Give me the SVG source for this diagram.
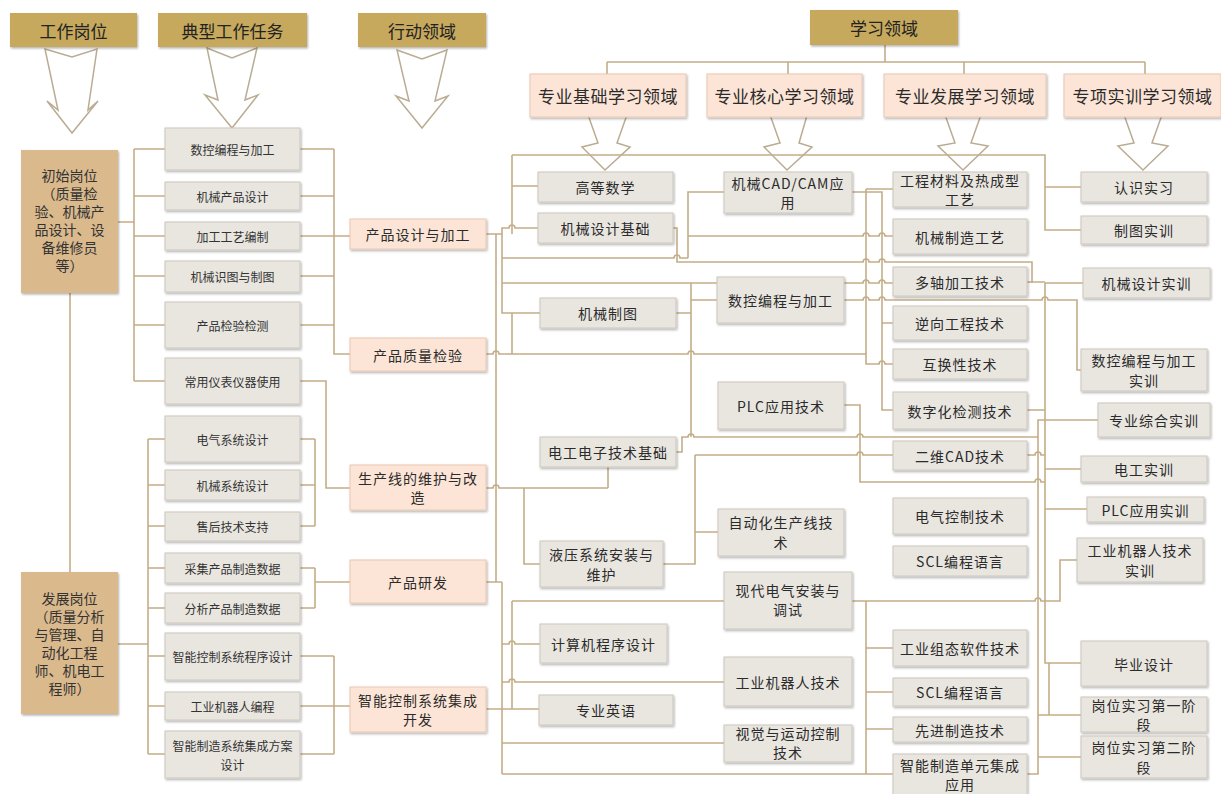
<svg xmlns="http://www.w3.org/2000/svg" width="1221" height="794" viewBox="0 0 1221 794">
<defs>
<filter id="sh" x="-10%" y="-10%" width="125%" height="135%"><feDropShadow dx="1" dy="1.5" stdDeviation="1" flood-color="#000" flood-opacity="0.3"/></filter>
<style>
text{font-family:"Noto Sans CJK SC","Noto Sans",sans-serif;fill:#2b2b2b;text-anchor:middle;dominant-baseline:central}
.hdr{fill:#C6A95C;filter:url(#sh)}
.ht{font-size:17px;fill:#222}
.post{fill:#DAB98C;filter:url(#sh)}
.pt{font-size:14px;fill:#333}
.act{fill:#FCE5D6;stroke:#EBC8B1;stroke-width:1;filter:url(#sh)}
.at{font-size:14px;letter-spacing:1px}
.sub{font-size:17px;letter-spacing:0.5px}
.box{fill:#E9E6E0;stroke:#CDC8BD;stroke-width:1;filter:url(#sh)}
.tt{font-size:12px;fill:#333}
.ct{font-size:14px;letter-spacing:1px}
.ln{fill:none;stroke:#C3AD87;stroke-width:1.6}
.arw{fill:#fff;stroke:#B9AC92;stroke-width:1.5;stroke-linejoin:miter}
</style>
</defs>
<rect width="1221" height="794" fill="#fff"/>

<g id="arrows">
<polygon class="arw" points="45,49 72,57 97,49 88,110 98,101 72,133 47,101 58,110"/>
<polygon class="arw" points="207,48 232,58 257,48 245,100 258,95 232,128 205,95 218,100"/>
<polygon class="arw" points="397,50 422,59 447,50 435,101 448,96 422,128 396,96 409,101"/>
<polygon class="arw" points="587,112 598,143 582,147 605,170 630,147 617,143 628,112"/>
<polygon class="arw" points="769,112 780,143 764,147 787,170 812,147 799,143 808,112"/>
<polygon class="arw" points="944,112 955,143 938,146 963,170 988,146 971,143 982,112"/>
<polygon class="arw" points="1123,112 1134,143 1118,146 1143,170 1168,146 1152,143 1163,112"/>
</g>

<g id="connectors">
<path class="ln" d="M885,45V62M607,62H1145M607,62V74M788,62V74M964,62V74M1145,62V74"/>
<path class="ln" d="M118,222H134M134,149V381M134,149H165M134,196H165M134,236H165M134,276H165M134,325H165M134,381H165"/>
<path class="ln" d="M300,149H334M300,196H334M300,236H350M300,276H334M300,325H334M334,149V354H350"/>
<path class="ln" d="M300,381H326V488H350M70,293V572"/>
<path class="ln" d="M118,644H148M148,439V754M148,439H165M148,485H165M148,526H165M148,568H165M148,608H165M148,656H165M148,706H165M148,754H165"/>
<path class="ln" d="M300,439H315M300,485H315M300,526H315M315,439V526M300,568H315M300,608H315M315,568V608M315,582H350"/>
<path class="ln" d="M300,656H334M300,706H350M300,754H334M334,656V754"/>

<path class="ln" d="M486,234H502M496,234V582M502,234V228H509a3,3 0 0 1 6,0H538M512,155V234M512,155H1045V230H1081M512,186H538M1045,187H1081"/>
<path class="ln" d="M502,234V313H540M502,258H674a3,3 0 0 1 6,0H688M502,283H863a3,3 0 0 1 6,0H879a3,3 0 0 1 6,0H893M512,313V354"/>
<path class="ln" d="M673,228H677V262H863a3,3 0 0 1 6,0H879a3,3 0 0 1 6,0H1032V283"/>
<path class="ln" d="M724,192H688V258M688,236H863a3,3 0 0 1 6,0H879a3,3 0 0 1 6,0H893"/>
<path class="ln" d="M852,192H882V410H893M866,189H893M866,189V354M882,323H893"/>
<path class="ln" d="M691,283V437M691,300H717M676,313H691"/>
<path class="ln" d="M844,300H863a3,3 0 0 1 6,0H879a3,3 0 0 1 6,0H1042a3,3 0 0 1 6,0H1077V370H1081"/>
<path class="ln" d="M486,354H493a3,3 0 0 1 6,0H688a3,3 0 0 1 6,0H866V364H879a3,3 0 0 1 6,0H893"/>
<path class="ln" d="M676,452H682V437H688a3,3 0 0 1 6,0H857a3,3 0 0 1 6,0H1038"/>
<path class="ln" d="M695,455V564H663M695,532H718M695,455H857a3,3 0 0 1 6,0H893"/>
<path class="ln" d="M844,405H860V482H1035a3,3 0 0 1 6,0H1045"/>
<path class="ln" d="M608,467V488M486,488H493a3,3 0 0 1 6,0H608M524,488V564H540"/>
<path class="ln" d="M1027,410H1045M1027,455H1035a3,3 0 0 1 6,0H1045M1027,282H1045M1045,283H1083M1045,283V663H1081"/>
<path class="ln" d="M1098,420H1038V774H1027M1045,469H1081M1045,509H1087"/>
<path class="ln" d="M852,601H1035a3,3 0 0 1 6,0H1060V560H1077"/>
<path class="ln" d="M866,601V774M866,648H893M866,692H893M866,729H893M502,774H893"/>
<path class="ln" d="M1049,663V715M1038,715H1081M1038,757H1081"/>
<path class="ln" d="M486,582H502M502,582V774M502,644H509a3,3 0 0 1 6,0H540M502,682H509a3,3 0 0 1 6,0H724M486,709H539M512,601V709M512,601H724M502,743H724"/>
</g>

<g id="h-post"><rect class="hdr" x="10" y="13" width="127" height="34"/><text class="ht" x="73.5" y="30">工作岗位</text></g>
<g id="h-task"><rect class="hdr" x="158" y="13" width="149" height="34"/><text class="ht" x="232.5" y="30">典型工作任务</text></g>
<g id="h-action"><rect class="hdr" x="358" y="13" width="128" height="34"/><text class="ht" x="422" y="30">行动领域</text></g>
<g id="h-learn"><rect class="hdr" x="810" y="10" width="148" height="35"/><text class="ht" x="884" y="27.5">学习领域</text></g>

<g id="s-basic"><rect class="act" x="530" y="74" width="156" height="43"/><text class="sub" x="608" y="95.5">专业基础学习领域</text></g>
<g id="s-core"><rect class="act" x="707" y="74" width="155" height="43"/><text class="sub" x="784.5" y="95.5">专业核心学习领域</text></g>
<g id="s-dev"><rect class="act" x="884" y="74" width="162" height="43"/><text class="sub" x="965" y="95.5">专业发展学习领域</text></g>
<g id="s-train"><rect class="act" x="1064" y="74" width="157" height="43"/><text class="sub" x="1142.5" y="95.5">专项实训学习领域</text></g>

<g id="post-init"><rect class="post" x="21" y="150" width="97" height="143"/>
<text class="pt" x="69.5" y="175"><tspan x="69.5" y="175">初始岗位</tspan><tspan x="69.5" y="193">（质量检</tspan><tspan x="69.5" y="211">验、机械产</tspan><tspan x="69.5" y="229">品设计、设</tspan><tspan x="69.5" y="247">备维修员</tspan><tspan x="69.5" y="265">等）</tspan></text></g>
<g id="post-dev"><rect class="post" x="21" y="572" width="97" height="142"/>
<text class="pt" x="69.5" y="598"><tspan x="69.5" y="598">发展岗位</tspan><tspan x="69.5" y="616">（质量分析</tspan><tspan x="69.5" y="634">与管理、自</tspan><tspan x="69.5" y="652">动化工程</tspan><tspan x="69.5" y="670">师、机电工</tspan><tspan x="69.5" y="688">程师）</tspan></text></g>

<g id="task1"><rect class="box" x="165" y="128" width="135" height="42"/><text class="tt" x="232.5" y="149">数控编程与加工</text></g>
<g id="task2"><rect class="box" x="165" y="182" width="135" height="28"/><text class="tt" x="232.5" y="196">机械产品设计</text></g>
<g id="task3"><rect class="box" x="165" y="222" width="135" height="28"/><text class="tt" x="232.5" y="236">加工工艺编制</text></g>
<g id="task4"><rect class="box" x="165" y="261" width="135" height="31"/><text class="tt" x="232.5" y="276.5">机械识图与制图</text></g>
<g id="task5"><rect class="box" x="165" y="302" width="135" height="46"/><text class="tt" x="232.5" y="325">产品检验检测</text></g>
<g id="task6"><rect class="box" x="165" y="358" width="135" height="46"/><text class="tt" x="232.5" y="381">常用仪表仪器使用</text></g>
<g id="task7"><rect class="box" x="165" y="416" width="135" height="46"/><text class="tt" x="232.5" y="439">电气系统设计</text></g>
<g id="task8"><rect class="box" x="165" y="470" width="135" height="30"/><text class="tt" x="232.5" y="485">机械系统设计</text></g>
<g id="task9"><rect class="box" x="165" y="512" width="135" height="29"/><text class="tt" x="232.5" y="526.5">售后技术支持</text></g>
<g id="task10"><rect class="box" x="165" y="553" width="135" height="30"/><text class="tt" x="232.5" y="568">采集产品制造数据</text></g>
<g id="task11"><rect class="box" x="165" y="593" width="135" height="30"/><text class="tt" x="232.5" y="608">分析产品制造数据</text></g>
<g id="task12"><rect class="box" x="165" y="633" width="135" height="47"/><text class="tt" x="232.5" y="656.5">智能控制系统程序设计</text></g>
<g id="task13"><rect class="box" x="165" y="692" width="135" height="28"/><text class="tt" x="232.5" y="706">工业机器人编程</text></g>
<g id="task14"><rect class="box" x="165" y="731" width="135" height="47"/><text class="tt" x="232.5" y="745"><tspan x="232.5" y="745">智能制造系统集成方案</tspan><tspan x="232.5" y="764">设计</tspan></text></g>

<g id="act1"><rect class="act" x="350" y="219" width="136" height="30"/><text class="at" x="418" y="234">产品设计与加工</text></g>
<g id="act2"><rect class="act" x="350" y="338" width="136" height="33"/><text class="at" x="418" y="354.5">产品质量检验</text></g>
<g id="act3"><rect class="act" x="350" y="465" width="136" height="45"/><text class="at" x="418" y="478"><tspan x="418" y="478">生产线的维护与改</tspan><tspan x="418" y="497">造</tspan></text></g>
<g id="act4"><rect class="act" x="350" y="560" width="136" height="43"/><text class="at" x="418" y="581.5">产品研发</text></g>
<g id="act5"><rect class="act" x="350" y="687" width="136" height="45"/><text class="at" x="418" y="700"><tspan x="418" y="700">智能控制系统集成</tspan><tspan x="418" y="719">开发</tspan></text></g>

<g id="c-math"><rect class="box" x="538" y="172" width="135" height="30"/><text class="ct" x="605.5" y="187">高等数学</text></g>
<g id="c-mdb"><rect class="box" x="538" y="213" width="135" height="30"/><text class="ct" x="605.5" y="228">机械设计基础</text></g>
<g id="c-draw"><rect class="box" x="540" y="298" width="136" height="30"/><text class="ct" x="608" y="313">机械制图</text></g>
<g id="c-elec"><rect class="box" x="540" y="437" width="136" height="30"/><text class="ct" x="608" y="452">电工电子技术基础</text></g>
<g id="c-hyd"><rect class="box" x="540" y="541" width="123" height="46"/><text class="ct" x="601.5" y="554"><tspan x="601.5" y="554">液压系统安装与</tspan><tspan x="601.5" y="574">维护</tspan></text></g>
<g id="c-prog"><rect class="box" x="540" y="624" width="127" height="39"/><text class="ct" x="603.5" y="643.5">计算机程序设计</text></g>
<g id="c-eng"><rect class="box" x="539" y="695" width="134" height="30"/><text class="ct" x="606" y="710">专业英语</text></g>

<g id="c-cad"><rect class="box" x="724" y="172" width="128" height="41"/><text class="ct" x="788" y="183"><tspan x="788" y="183">机械CAD/CAM应</tspan><tspan x="788" y="202">用</tspan></text></g>
<g id="c-cnc"><rect class="box" x="717" y="277" width="127" height="46"/><text class="ct" x="780.5" y="300">数控编程与加工</text></g>
<g id="c-plc"><rect class="box" x="718" y="382" width="126" height="47"/><text class="ct" x="781" y="405.5">PLC应用技术</text></g>
<g id="c-auto"><rect class="box" x="718" y="509" width="126" height="47"/><text class="ct" x="781" y="522"><tspan x="781" y="522">自动化生产线技</tspan><tspan x="781" y="542">术</tspan></text></g>
<g id="c-modern"><rect class="box" x="724" y="572" width="128" height="57"/><text class="ct" x="788" y="590"><tspan x="788" y="590">现代电气安装与</tspan><tspan x="788" y="609">调试</tspan></text></g>
<g id="c-robot"><rect class="box" x="724" y="657" width="128" height="49"/><text class="ct" x="788" y="681.5">工业机器人技术</text></g>
<g id="c-vision"><rect class="box" x="724" y="725" width="128" height="37"/><text class="ct" x="788" y="733"><tspan x="788" y="733">视觉与运动控制</tspan><tspan x="788" y="752">技术</tspan></text></g>

<g id="d-mat"><rect class="box" x="893" y="172" width="134" height="35"/><text class="ct" x="960" y="180"><tspan x="960" y="180">工程材料及热成型</tspan><tspan x="960" y="199">工艺</tspan></text></g>
<g id="d-mfg"><rect class="box" x="893" y="219" width="134" height="35"/><text class="ct" x="960" y="236.5">机械制造工艺</text></g>
<g id="d-multi"><rect class="box" x="893" y="267" width="134" height="29"/><text class="ct" x="960" y="281.5">多轴加工技术</text></g>
<g id="d-rev"><rect class="box" x="893" y="306" width="134" height="34"/><text class="ct" x="960" y="323">逆向工程技术</text></g>
<g id="d-inter"><rect class="box" x="893" y="349" width="134" height="30"/><text class="ct" x="960" y="364">互换性技术</text></g>
<g id="d-digi"><rect class="box" x="893" y="392" width="134" height="37"/><text class="ct" x="960" y="410.5">数字化检测技术</text></g>
<g id="d-2d"><rect class="box" x="893" y="441" width="134" height="29"/><text class="ct" x="960" y="455.5">二维CAD技术</text></g>
<g id="d-ectl"><rect class="box" x="893" y="498" width="134" height="36"/><text class="ct" x="960" y="516">电气控制技术</text></g>
<g id="d-scl1"><rect class="box" x="893" y="546" width="134" height="30"/><text class="ct" x="960" y="561">SCL编程语言</text></g>
<g id="d-soft"><rect class="box" x="893" y="630" width="134" height="36"/><text class="ct" x="960" y="648">工业组态软件技术</text></g>
<g id="d-scl2"><rect class="box" x="893" y="678" width="134" height="28"/><text class="ct" x="960" y="692">SCL编程语言</text></g>
<g id="d-adv"><rect class="box" x="893" y="717" width="134" height="25"/><text class="ct" x="960" y="729.5">先进制造技术</text></g>
<g id="d-cell"><rect class="box" x="893" y="754" width="134" height="42"/><text class="ct" x="960" y="765"><tspan x="960" y="765">智能制造单元集成</tspan><tspan x="960" y="784">应用</tspan></text></g>

<g id="t-know"><rect class="box" x="1081" y="172" width="126" height="30"/><text class="ct" x="1144" y="187">认识实习</text></g>
<g id="t-draw"><rect class="box" x="1081" y="216" width="126" height="28"/><text class="ct" x="1144" y="230">制图实训</text></g>
<g id="t-mech"><rect class="box" x="1083" y="268" width="127" height="30"/><text class="ct" x="1146.5" y="283">机械设计实训</text></g>
<g id="t-cnc"><rect class="box" x="1081" y="349" width="126" height="42"/><text class="ct" x="1144" y="360"><tspan x="1144" y="360">数控编程与加工</tspan><tspan x="1144" y="380">实训</tspan></text></g>
<g id="t-comp"><rect class="box" x="1098" y="403" width="112" height="34"/><text class="ct" x="1154" y="420">专业综合实训</text></g>
<g id="t-elec"><rect class="box" x="1081" y="456" width="126" height="26"/><text class="ct" x="1144" y="469">电工实训</text></g>
<g id="t-plc"><rect class="box" x="1087" y="497" width="117" height="25"/><text class="ct" x="1145.5" y="509.5">PLC应用实训</text></g>
<g id="t-robot"><rect class="box" x="1077" y="538" width="126" height="44"/><text class="ct" x="1140" y="550"><tspan x="1140" y="550">工业机器人技术</tspan><tspan x="1140" y="570">实训</tspan></text></g>
<g id="t-grad"><rect class="box" x="1081" y="641" width="126" height="45"/><text class="ct" x="1144" y="663.5">毕业设计</text></g>
<g id="t-intern1"><rect class="box" x="1081" y="697" width="126" height="35"/><text class="ct" x="1144" y="705"><tspan x="1144" y="705">岗位实习第一阶</tspan><tspan x="1144" y="724">段</tspan></text></g>
<g id="t-intern2"><rect class="box" x="1081" y="736" width="126" height="42"/><text class="ct" x="1144" y="747"><tspan x="1144" y="747">岗位实习第二阶</tspan><tspan x="1144" y="767">段</tspan></text></g>
</svg>
